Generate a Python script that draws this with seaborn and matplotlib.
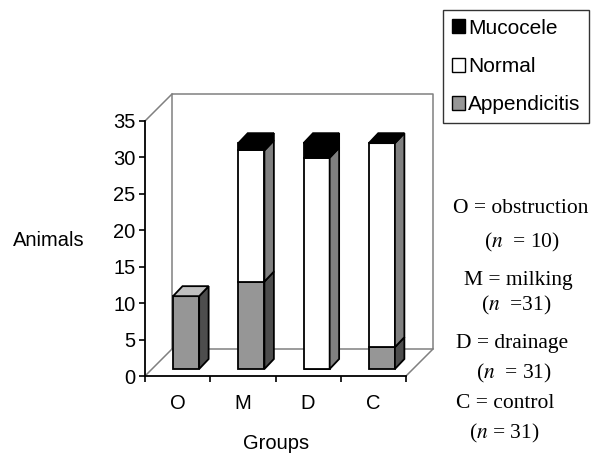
import numpy as np
import pandas as pd
import matplotlib
matplotlib.use("Agg")
import matplotlib.pyplot as plt
import seaborn as sns
from matplotlib.patches import Polygon, Patch

# data
groups = ["O", "M", "D", "C"]
appendicitis = [10, 12, 0, 3]
normal = [np.nan, 18, 29, 28]
mucocele = [np.nan, 1, 2, 0]
series_names = ["Appendicitis", "Normal", "Mucocele"]
y_ticks = [0, 5, 10, 15, 20, 25, 30, 35]
group_notes = ["O = obstruction", "M = milking", "D = drainage", "C = control"]
group_counts = ["($n$  = 10)", "($n$  =31)", "($n$  = 31)", "($n$ = 31)"]

front_colors = {"Appendicitis": "#969696", "Normal": "white", "Mucocele": "black"}
side_colors = {"Appendicitis": "#4d4d4d", "Normal": "#808080", "Mucocele": "black"}
top_colors = {"Appendicitis": "#c0c0c0", "Normal": "white", "Mucocele": "black"}

plt.rcParams["font.family"] = ["Liberation Sans", "DejaVu Sans"]
plt.rcParams["mathtext.fontset"] = "stix"

df = pd.DataFrame({"group": groups, "Appendicitis": appendicitis,
                   "Normal": normal, "Mucocele": mucocele})
vals = df[series_names].fillna(0)
bottoms = vals.cumsum(axis=1) - vals

# fake 3d geometry (in data units)
bw = 0.40             # bar width
ox, oy = 0.13, 0.96   # bar front face offset into the floor
bdx, bdy = 0.145, 1.37  # bar depth
wdx, wdy = 0.414, 3.706  # wall depth

fig = plt.figure(figsize=(5.96, 4.55), dpi=100)
ax = fig.add_axes([145 / 596, 79 / 455, 261 / 596, 255 / 455])

for name in series_names:
    sns.barplot(x=df["group"], y=vals[name], bottom=(bottoms[name] + oy).to_numpy(),
                color=front_colors[name], saturation=1, edgecolor="black",
                linewidth=1.3, width=bw, ax=ax, clip_on=False, zorder=1.5)
for p in ax.patches:
    p.set_x(p.get_x() + ox)

# side and top faces
for i in range(len(groups)):
    x0 = i + ox - bw / 2
    x1 = i + ox + bw / 2
    for name in series_names:
        h = vals.loc[i, name]
        if h <= 0:
            continue
        y0 = bottoms.loc[i, name] + oy
        y1 = y0 + h
        ax.add_patch(Polygon([(x1, y0), (x1 + bdx, y0 + bdy), (x1 + bdx, y1 + bdy), (x1, y1)],
                             closed=True, facecolor=side_colors[name], edgecolor="black",
                             linewidth=1.3, clip_on=False, zorder=1.5))
    present = [n for n in series_names if not pd.isna(df.loc[i, n])]
    ytop = vals.loc[i].sum() + oy
    ax.add_patch(Polygon([(x0, ytop), (x0 + bdx, ytop + bdy), (x1 + bdx, ytop + bdy), (x1, ytop)],
                         closed=True, facecolor=top_colors[present[-1]], edgecolor="black",
                         linewidth=1.3, clip_on=False, zorder=1.5))

# back wall / floor frame
xl, xr, ytop_axis = -0.5, len(groups) - 0.5, y_ticks[-1]
frame = dict(color="#808080", linewidth=1.1, clip_on=False, zorder=0.5)
ax.plot([xl + wdx, xr + wdx, xr + wdx, xl + wdx, xl + wdx],
        [wdy, wdy, ytop_axis + wdy, ytop_axis + wdy, wdy], **frame)
ax.plot([xl, xl + wdx], [0, wdy], **frame)
ax.plot([xl, xl + wdx], [ytop_axis, ytop_axis + wdy], **frame)
ax.plot([xr, xr + wdx], [0, wdy], **frame)

ax.set_xlim(xl, xr)
ax.set_ylim(0, ytop_axis)
ax.set_xlabel("")
ax.set_ylabel("")
ax.set_facecolor("none")
for s in ["top", "right"]:
    ax.spines[s].set_visible(False)
ax.spines["left"].set_linewidth(1.3)
ax.spines["bottom"].set_linewidth(1.3)

ax.set_yticks(y_ticks)
ax.tick_params(axis="y", length=4.3, width=1.2, labelsize=14.5, pad=2.5)
ax.set_xticks(range(len(groups)), groups)
ax.set_xticks(np.arange(xl, xr + 0.01, 1), minor=True)
ax.tick_params(axis="x", which="major", length=0, labelsize=14.5, pad=13)
ax.tick_params(axis="x", which="minor", length=4.3, width=1.2)

fig.text(12.5 / 596, 1 - 246 / 455, "Animals", fontsize=14.5, ha="left", va="baseline")
fig.text(276 / 596, 1 - 449 / 455, "Groups", fontsize=14.5, ha="center", va="baseline")

# legend
handles = [Patch(facecolor=front_colors[n], edgecolor="black", linewidth=1.0)
           for n in series_names[::-1]]
leg = fig.legend(handles, series_names[::-1], loc="upper left",
                 bbox_to_anchor=(443 / 596, 1 - 10 / 455), frameon=True, fancybox=False,
                 edgecolor="black", fontsize=15, handlelength=0.65, handleheight=0.65,
                 handletextpad=0.12, labelspacing=0.92, borderpad=0.42, borderaxespad=0)
leg.get_frame().set_linewidth(1.0)

# group descriptions
note_x = [521, 518, 512, 505]
note_y = [213, 285, 348, 408]
count_x = [522, 516, 514, 504]
count_y = [247, 310, 378, 438]
for i in range(len(groups)):
    fig.text(note_x[i] / 596, 1 - note_y[i] / 455, group_notes[i], fontsize=15.5,
             family="Liberation Serif", ha="center", va="baseline")
    fig.text(count_x[i] / 596, 1 - count_y[i] / 455, group_counts[i], fontsize=15.5,
             family="Liberation Serif", ha="center", va="baseline")

fig.savefig("out.png", dpi=100)
